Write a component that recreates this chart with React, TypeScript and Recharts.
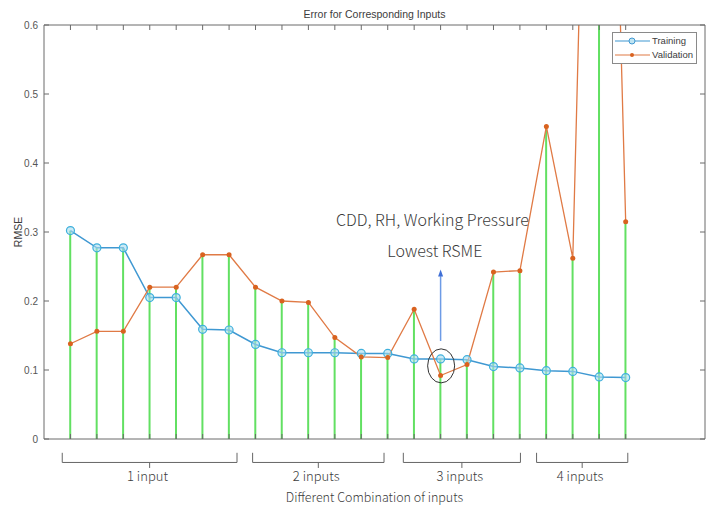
import React from 'react';
import {
  ComposedChart,
  Line,
  Bar,
  XAxis,
  YAxis,
  Legend,
  ReferenceLine,
  ReferenceDot,
} from 'recharts';

// combination index on the x axis
const combos = [1, 2, 3, 4, 5, 6, 7, 8, 9, 10, 11, 12, 13, 14, 15, 16, 17, 18, 19, 20, 21, 22];
const training = [
  0.302, 0.277, 0.277, 0.205, 0.205, 0.159, 0.158, 0.137, 0.125, 0.125, 0.125,
  0.124, 0.124, 0.116, 0.116, 0.115, 0.105, 0.103, 0.099, 0.098, 0.09, 0.089,
];
const validation = [
  0.138, 0.156, 0.156, 0.22, 0.22, 0.267, 0.267, 0.22, 0.2, 0.198, 0.147,
  0.119, 0.118, 0.188, 0.092, 0.108, 0.242, 0.244, 0.453, 0.262, 1.75, 0.315,
];
const yTicks = [0, 0.1, 0.2, 0.3, 0.4, 0.5, 0.6];
const groupLabels = ['1 input', '2 inputs', '3 inputs', '4 inputs'];
const groupFrom = [0.69, 7.89, 13.59, 18.63];
const groupTo = [7.3, 12.86, 18.02, 22.08];

const data = combos.map((c, i) => ({
  combo: c,
  training: training[i],
  validation: validation[i],
  stem: Math.max(training[i], validation[i]),
}));

const axisColor = '#6a6a6a';
const textColor = '#3c3c3c';
const trainColor = '#3f98d2';
const validColor = '#e07a45';
const stemColor = '#62e062';
const annoFont = '"Noto Sans CJK SC", "Noto Sans", sans-serif';

function LegendBox() {
  const row = (label: string, color: string, open: boolean) => (
    <div style={{ display: 'flex', alignItems: 'center', height: 14 }}>
      <svg width={37} height={10}>
        <line x1={1} y1={5} x2={36} y2={5} stroke={color} strokeWidth={1.2} />
        {open ? (
          <circle cx={18} cy={5} r={3} stroke={color} fill="#bfe4f2" strokeWidth={1} />
        ) : (
          <circle cx={18} cy={5} r={2} fill="#d9621f" />
        )}
      </svg>
      <span style={{ marginLeft: 1 }}>{label}</span>
    </div>
  );
  return (
    <div
      style={{
        border: '1px solid #8a8a8a',
        background: '#fff',
        padding: '1px 3px 1px 1px',
        fontFamily: '"Liberation Sans", Arial, sans-serif',
        fontSize: 9.5,
        color: textColor,
        lineHeight: '14px',
      }}
    >
      {row('Training', trainColor, true)}
      {row('Validation', validColor, false)}
    </div>
  );
}

export default function App() {
  const braceLines: React.ReactNode[] = [];
  groupLabels.forEach((label, g) => {
    const a = groupFrom[g];
    const b = groupTo[g];
    const mid = (a + b) / 2;
    const segs = [
      [{ x: a, y: -0.02 }, { x: a, y: -0.034 }],
      [{ x: a, y: -0.034 }, { x: b, y: -0.034 }],
      [{ x: b, y: -0.02 }, { x: b, y: -0.034 }],
      [{ x: mid, y: -0.034 }, { x: mid, y: -0.042 }],
    ];
    segs.forEach((s, k) =>
      braceLines.push(
        <ReferenceLine
          key={`b${g}-${k}`}
          xAxisId="bottom"
          yAxisId="left"
          segment={s}
          stroke="#666"
          strokeWidth={1}
          ifOverflow="visible"
        />
      )
    );
    braceLines.push(
      <ReferenceDot
        key={`bl${g}`}
        xAxisId="bottom"
        yAxisId="left"
        x={mid - 0.08}
        y={-0.054}
        r={0}
        ifOverflow="visible"
        label={{ value: label, position: 'center', fontSize: 13, fontWeight: 300, fill: textColor, fontFamily: annoFont }}
      />
    );
  });

  return (
    <div style={{ position: 'absolute', left: 0, top: 0, background: '#fff' }}>
      <ComposedChart
        width={715}
        height={510}
        data={data}
        margin={{ top: 24, right: 9, bottom: 0, left: 0 }}
      >
        <XAxis
          xAxisId="bottom"
          dataKey="combo"
          type="number"
          domain={[0, 25]}
          ticks={combos}
          height={71}
          tickSize={-5}
          tickFormatter={() => ''}
          stroke={axisColor}
          label={{
            value: 'Different Combination of inputs',
            position: 'insideBottom',
            offset: 8,
            fontSize: 12.5,
            fontWeight: 300,
            fill: textColor,
            fontFamily: annoFont,
          }}
        />
        <XAxis
          xAxisId="top"
          orientation="top"
          dataKey="combo"
          type="number"
          domain={[0, 25]}
          ticks={combos}
          height={1}
          tickSize={-5}
          tickFormatter={() => ''}
          stroke={axisColor}
          label={{
            value: 'Error for Corresponding Inputs',
            position: 'top',
            offset: 6,
            fontSize: 10.5,
            fill: textColor,
            fontFamily: '"Liberation Sans", Arial, sans-serif',
          }}
        />
        <YAxis
          yAxisId="left"
          domain={[0, 0.6]}
          ticks={yTicks}
          allowDataOverflow
          width={44}
          tickSize={-5}
          tickMargin={11}
          stroke={axisColor}
          tick={{ fontSize: 10, fill: '#555', fontFamily: '"Liberation Sans", Arial, sans-serif' }}
          label={{
            value: 'RMSE',
            angle: -90,
            position: 'insideLeft',
            offset: 18,
            fontSize: 10.5,
            fill: textColor,
            fontFamily: '"Liberation Sans", Arial, sans-serif',
            style: { textAnchor: 'middle' },
          }}
        />
        <YAxis
          yAxisId="right"
          orientation="right"
          domain={[0, 0.6]}
          ticks={yTicks}
          allowDataOverflow
          width={1}
          tickSize={-5}
          tickFormatter={() => ''}
          stroke={axisColor}
        />
        <Legend
          layout="vertical"
          align="center"
          verticalAlign="middle"
          wrapperStyle={{ left: 612, top: 32, width: 'auto' }}
          content={() => <LegendBox />}
        />
        <Bar
          xAxisId="bottom"
          yAxisId="left"
          dataKey="stem"
          fill={stemColor}
          barSize={2}
          isAnimationActive={false}
          legendType="none"
        />
        <Line
          xAxisId="bottom"
          yAxisId="left"
          dataKey="training"
          name="Training"
          stroke={trainColor}
          strokeWidth={1.5}
          dot={{ r: 4, stroke: '#3fb0dc', strokeWidth: 1.2, fill: '#a9dcef', fillOpacity: 0.6 }}
          isAnimationActive={false}
        />
        <Line
          xAxisId="bottom"
          yAxisId="left"
          dataKey="validation"
          name="Validation"
          stroke={validColor}
          strokeWidth={1.3}
          dot={{ r: 2.5, stroke: 'none', fill: '#d9621f' }}
          isAnimationActive={false}
        />
        <ReferenceDot
          xAxisId="bottom"
          yAxisId="left"
          x={14.69}
          y={0.317}
          r={0}
          label={{ value: 'CDD, RH, Working Pressure', position: 'center', fontSize: 16, fontWeight: 300, fill: '#3a3a3a', fontFamily: annoFont }}
        />
        <ReferenceDot
          xAxisId="bottom"
          yAxisId="left"
          x={14.78}
          y={0.272}
          r={0}
          label={{ value: 'Lowest RSME', position: 'center', fontSize: 16, fontWeight: 300, fill: '#3a3a3a', fontFamily: annoFont }}
        />
        <ReferenceLine
          xAxisId="bottom"
          yAxisId="left"
          segment={[{ x: 15, y: 0.142 }, { x: 15, y: 0.236 }]}
          stroke="#6d9be6"
          strokeWidth={1.5}
        />
        <ReferenceDot
          xAxisId="bottom"
          yAxisId="left"
          x={15}
          y={0.24}
          r={3}
          shape={(p: any) => (
            <path
              d={`M${p.cx},${p.cy - 4} L${p.cx - 2.5},${p.cy + 3} L${p.cx + 2.5},${p.cy + 3} Z`}
              fill="#3f6fd6"
            />
          )}
        />
        <ReferenceDot
          xAxisId="bottom"
          yAxisId="left"
          x={15.02}
          y={0.106}
          r={3}
          shape={(p: any) => (
            <ellipse cx={p.cx} cy={p.cy} rx={13.5} ry={17} fill="none" stroke="#333" strokeWidth={1} />
          )}
        />
        {braceLines}
      </ComposedChart>
    </div>
  );
}
